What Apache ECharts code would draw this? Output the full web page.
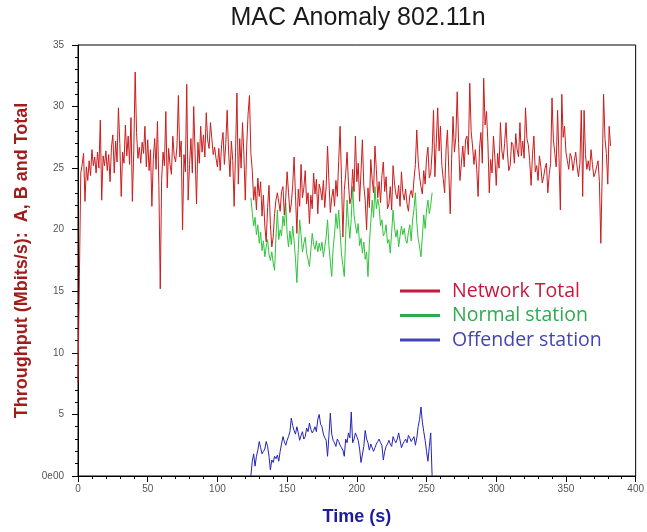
<!DOCTYPE html>
<html>
<head>
<meta charset="utf-8">
<title>MAC Anomaly 802.11n</title>
<script src="https://cdn.jsdelivr.net/npm/echarts@6/dist/echarts.min.js"></script>
<style>
  html, body { margin: 0; padding: 0; background: #fff; }
  #chart { width: 647px; height: 532px; }
</style>
</head>
<body>
<div id="chart"></div>
<script>
// Throughput samples, one per second (Mbit/s)
const totalStart = 0;
const totalValues = [
  7.6, 16.2, 24.6, 25.3, 26.2, 22.3, 25.1, 24.0, 25.6, 24.4,
  26.5, 25.2, 25.9, 24.6, 26.3, 25.0, 28.9, 22.4, 26.0, 25.2,
  26.4, 24.8, 26.1, 23.9, 26.7, 27.7, 24.6, 27.2, 25.5, 29.9,
  27.0, 22.7, 26.3, 25.4, 28.5, 26.0, 27.6, 25.3, 29.1, 22.3,
  26.4, 32.8, 27.9, 25.8, 26.7, 25.4, 27.1, 26.2, 28.4, 25.1,
  27.3, 24.8, 26.5, 21.9, 25.7, 27.4, 24.9, 28.8, 23.6, 15.2,
  24.1, 26.3, 25.2, 29.6, 23.4, 26.6, 25.3, 24.5, 27.6, 26.0,
  25.5, 26.8, 30.9, 25.9, 27.2, 20.0, 26.1, 24.7, 31.8, 22.4,
  25.3, 27.4, 24.6, 30.0, 26.2, 22.1, 27.1, 25.4, 28.4, 26.3,
  27.7, 25.9, 29.5, 27.3, 26.6, 28.7, 27.4, 26.1, 26.7, 25.8,
  25.1, 26.6, 24.8, 26.9, 27.9, 25.3, 27.0, 29.7, 26.4, 24.3,
  27.2, 25.6, 21.9, 26.3, 31.1, 23.7, 27.4, 25.0, 28.7, 26.1,
  22.4, 26.8, 29.4, 30.9, 26.2, 24.8, 22.4, 23.5, 21.6, 24.2,
  22.7, 23.9, 21.1, 22.8, 20.3, 19.0, 21.8, 23.6, 20.4, 18.6,
  19.4, 21.3, 22.4, 23.0, 22.9, 21.5, 23.1, 23.5, 21.2, 22.6,
  24.7, 23.0, 21.4, 22.1, 23.6, 25.9, 22.8, 19.7, 23.3, 21.9,
  25.3, 22.6, 23.4, 24.8, 22.1, 23.0, 20.5, 22.8, 21.7, 24.6,
  22.9, 24.1, 21.3, 23.7, 23.2, 22.4, 24.0, 21.8, 23.5, 26.8,
  23.9, 21.4, 22.6, 23.3, 21.9, 24.0, 22.7, 25.6, 28.4, 24.1,
  19.4, 23.2, 24.5, 26.3, 23.8, 22.1, 22.6, 24.9, 23.1, 27.6,
  23.9, 25.4, 22.3, 24.7, 27.3, 23.6, 22.4, 20.0, 23.4, 21.8,
  25.7, 24.1, 23.0, 26.8, 24.9, 22.6, 23.9, 22.2, 24.4, 25.5,
  23.1, 24.3, 21.7, 22.1, 23.5, 21.6, 25.2, 23.8, 22.9, 22.5,
  23.6, 21.9, 24.7, 23.0, 22.4, 23.3, 22.1, 21.5, 22.8, 23.2,
  22.6, 24.1, 25.3, 28.1, 25.6, 24.3, 23.5, 22.9, 24.8, 23.7,
  25.8, 26.7, 24.2, 24.6, 26.3, 29.7, 24.3, 27.1, 29.9, 26.4,
  28.4, 25.2, 24.1, 23.0, 26.5, 28.1, 24.6, 21.3, 25.8, 29.2,
  26.3, 27.5, 31.2, 27.0, 24.0, 25.4, 26.8, 25.1, 27.3, 27.6,
  26.1, 31.9, 28.0, 26.8, 25.3, 26.5, 24.9, 22.7, 26.6, 27.9,
  25.4, 32.3, 28.5, 29.6, 27.1, 23.0, 25.7, 24.6, 27.6, 25.9,
  23.6, 26.2, 25.0, 28.7, 26.4, 25.7, 27.0, 28.7, 26.3, 24.8,
  25.2, 27.1, 26.9, 25.4, 27.8, 26.5, 25.9, 28.7, 26.0, 27.2,
  25.8, 29.9, 27.4, 26.9, 25.6, 23.6, 26.1, 27.6, 24.7, 25.2,
  24.0, 26.0, 25.1, 23.8, 24.3, 25.0, 25.4, 23.0, 24.5, 25.4,
  30.7, 27.3, 26.2, 25.1, 29.7, 25.8, 21.6, 31.0, 27.5, 28.4,
  26.3, 25.6, 24.9, 26.2, 25.9, 24.8, 25.6, 26.3, 25.1, 24.3,
  25.4, 29.7, 22.7, 29.7, 26.1, 24.9, 25.6, 24.8, 26.5, 25.3,
  24.3, 24.6, 25.1, 25.6, 23.9, 18.9, 24.5, 31.0, 27.4, 26.2,
  23.7, 28.4, 26.8
];

const normalStart = 124;
const normalValues = [
  22.6, 21.4, 20.3, 21.0, 19.6, 20.4, 18.9, 19.8, 18.3, 19.1,
  17.8, 18.6, 19.2, 18.0, 17.5, 18.2, 17.3, 16.7, 19.4, 21.6,
  19.2, 20.0, 19.5, 21.1, 20.3, 22.2, 19.7, 18.6, 19.9, 18.8,
  20.3, 19.1, 17.6, 15.7, 18.4, 20.8, 19.6, 18.2, 18.9, 19.4,
  18.1, 17.6, 17.0, 18.3, 19.7, 18.8, 18.4, 19.1, 18.2, 18.9,
  18.3, 19.0, 17.8, 18.6, 19.4, 20.8, 18.7, 17.4, 16.2, 18.5,
  19.6, 21.3, 20.1, 21.6, 19.8, 18.0, 17.1, 16.2, 19.5, 22.4,
  20.6, 19.3, 20.9, 23.5, 21.2, 20.4, 19.7, 20.5, 18.7, 19.3,
  18.1, 19.0, 17.6, 18.2, 16.2, 18.9, 20.6, 22.4, 21.0, 23.5,
  21.7, 22.5, 21.9, 20.3, 20.8, 19.5, 19.7, 20.4, 18.9, 19.2,
  18.1, 19.8, 21.6, 20.2, 19.4, 20.0, 18.6, 19.5, 20.3, 19.6,
  20.1, 19.2, 18.9, 19.8, 20.4, 19.1, 20.8, 21.7, 23.0, 20.6,
  19.3, 18.6, 17.8, 19.4, 21.2, 20.1, 21.6, 22.4, 21.3, 22.0,
  23.0
];

const offenderStart = 124;
const offenderValues = [
  0.0, 1.2, 1.8, 0.8, 1.6, 2.1, 2.8, 2.3, 1.8, 2.0,
  2.2, 2.8, 2.4, 1.6, 0.5, 1.3, 1.1, 1.6, 1.4, 1.7,
  1.2, 2.0, 2.6, 3.2, 2.8, 2.5, 2.9, 3.2, 3.6, 4.7,
  4.1, 3.7, 3.4, 4.0, 3.5, 2.9, 3.3, 3.6, 3.0, 3.2,
  3.9, 3.6, 4.3, 3.8, 3.5, 3.7, 4.0, 3.6, 4.6, 5.0,
  4.2, 4.0, 3.4, 3.1, 2.9, 1.6, 3.3, 5.1, 3.4, 2.9,
  2.7, 2.4, 3.0, 2.8, 2.5, 2.3, 2.1, 1.6, 3.0, 2.7,
  3.5, 3.1, 5.2, 2.7, 3.0, 3.5, 3.2, 2.9, 2.2, 1.1,
  1.2, 2.4, 3.7, 3.0, 2.7, 2.1, 2.6, 2.5, 2.0, 2.3,
  2.6, 2.8, 3.0, 2.7, 2.5, 1.3, 2.0, 2.4, 2.6, 2.9,
  2.6, 2.4, 3.2, 2.9, 2.7, 3.0, 3.5, 3.4, 2.3, 2.6,
  2.8, 3.0, 2.7, 3.3, 3.1, 2.8, 2.9, 3.2, 2.5, 3.1,
  4.0, 4.6, 5.6, 4.4, 3.6, 2.9, 2.0, 1.2, 2.4, 3.5,
  0.0
];

const seriesNames = ['Network Total', 'Normal station', 'Offender station'];
const lineColors = ['#cc1c1c', '#2fc43a', '#2424b4'];
const legendColors = ['#c8183a', '#2eaa50', '#4444b4'];

function toPairs(start, values) {
  return values.map((v, i) => [start + i, v]);
}

const chart = echarts.init(document.getElementById('chart'), null, { renderer: 'canvas' });

const tickFont = { color: '#555', fontSize: 10, fontFamily: 'Liberation Sans' };

chart.setOption({
  animation: false,
  backgroundColor: '#fff',
  graphic: [{
    type: 'text',
    style: {
      text: 'MAC Anomaly 802.11n',
      x: 358, y: 18,
      align: 'center', verticalAlign: 'middle',
      font: '25px "Liberation Sans"',
      fill: '#1a1a1a'
    }
  }],
  grid: {
    left: 78, right: 9, top: 45, bottom: 56,
    show: true, borderColor: '#000', borderWidth: 1, backgroundColor: 'transparent'
  },
  legend: {
    orient: 'vertical',
    left: 395, top: 276,
    icon: 'rect',
    itemWidth: 40, itemHeight: 3, itemGap: 4.5,
    selectedMode: false,
    textStyle: { fontFamily: 'Open Sans', fontSize: 19.5, lineHeight: 20, padding: [0, 0, 0, 7] },
    data: seriesNames.map((n, i) => ({
      name: n,
      itemStyle: { color: legendColors[i] },
      textStyle: { color: legendColors[i] }
    }))
  },
  xAxis: {
    type: 'value', min: 0, max: 400, interval: 50,
    axisLine: { show: true, onZero: false, lineStyle: { color: '#000', width: 1 } },
    axisTick: { show: true, length: 6, lineStyle: { color: '#000' } },
    minorTick: { show: true, splitNumber: 5, length: 3, lineStyle: { color: '#000' } },
    splitLine: { show: false },
    axisLabel: Object.assign({ margin: 8 }, tickFont),
    name: 'Time (s)', nameLocation: 'middle', nameGap: 32,
    nameTextStyle: { color: '#1c1c9c', fontWeight: 'bold', fontSize: 18, fontFamily: 'Liberation Sans' }
  },
  yAxis: {
    type: 'value', min: 0, max: 35, interval: 5,
    axisLine: { show: true, onZero: false, lineStyle: { color: '#000', width: 1 } },
    axisTick: { show: true, length: 6, lineStyle: { color: '#000' } },
    minorTick: { show: true, splitNumber: 5, length: 3, lineStyle: { color: '#000' } },
    splitLine: { show: false },
    axisLabel: Object.assign({ margin: 14, formatter: v => (v === 0 ? '0e00' : String(v)) }, tickFont),
    name: 'Throughput (Mbits/s):  A, B and Total', nameLocation: 'middle', nameGap: 47,
    nameTextStyle: { color: '#a31c1c', fontWeight: 'bold', fontSize: 18, fontFamily: 'Liberation Sans' }
  },
  series: [
    {
      name: seriesNames[1], type: 'line', z: 2,
      data: toPairs(normalStart, normalValues),
      showSymbol: false, symbol: 'none',
      itemStyle: { color: lineColors[1] },
      lineStyle: { color: lineColors[1], width: 1 }
    },
    {
      name: seriesNames[2], type: 'line', z: 3,
      data: toPairs(offenderStart, offenderValues),
      showSymbol: false, symbol: 'none',
      itemStyle: { color: lineColors[2] },
      lineStyle: { color: lineColors[2], width: 1 }
    },
    {
      name: seriesNames[0], type: 'line', z: 4,
      data: toPairs(totalStart, totalValues),
      showSymbol: false, symbol: 'none',
      itemStyle: { color: lineColors[0] },
      lineStyle: { color: lineColors[0], width: 1 }
    }
  ]
});
</script>
</body>
</html>
